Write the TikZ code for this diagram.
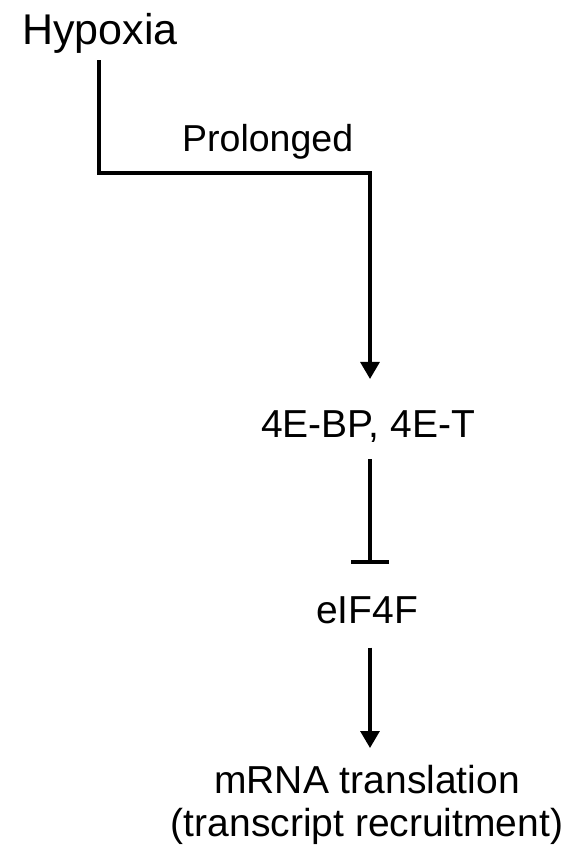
\documentclass[tikz,border=0pt]{standalone}
\usepackage{fontspec}
\setmainfont{Liberation Sans}
\usetikzlibrary{arrows.meta}
\begin{document}
\begin{tikzpicture}[x=1pt,y=-1pt,
  lbl/.style={inner sep=0pt, font=\fontsize{39}{43}\selectfont},
  wire/.style={line width=3.2pt},
  act/.style={wire, -{Triangle[width=19pt,length=17pt]}},
  inh/.style={wire, -{Bar[width=38pt,line width=4pt]}}]
\useasboundingbox (0,0) rectangle (571,850);

% labels
\node[lbl, font=\fontsize{43}{46}\selectfont, anchor=base west] (hyp) at (22,45) {Hypoxia};
\node[lbl, font=\fontsize{37.5}{40}\selectfont, anchor=base west] (prol) at (182,152) {Prolonged};
\node[lbl, anchor=base] (bp) at (368,437) {4E-BP, 4E-T};
\node[lbl, anchor=base] (eif) at (367,623) {eIF4F};
\node[lbl, anchor=north, align=center] (mrna) at (367,765) {mRNA translation\\(transcript recruitment)};

% elbow from hypoxia down to the 4E binding proteins
\coordinate (drop) at (99,173);
\coordinate (knee) at (370,173);
\draw[act, shorten <=6pt, shorten >=31pt] (hyp.south -| drop) -- (drop) -- (knee) -- (bp.north -| knee);

% inhibition of eIF4F
\draw[inh, shorten <=17pt, shorten >=32pt] (bp.south -| knee) -- (eif.north -| knee);

% eIF4F drives translation
\draw[act, shorten <=24pt, shorten >=17pt] (eif.south -| knee) -- (mrna.north -| knee);
\end{tikzpicture}
\end{document}
